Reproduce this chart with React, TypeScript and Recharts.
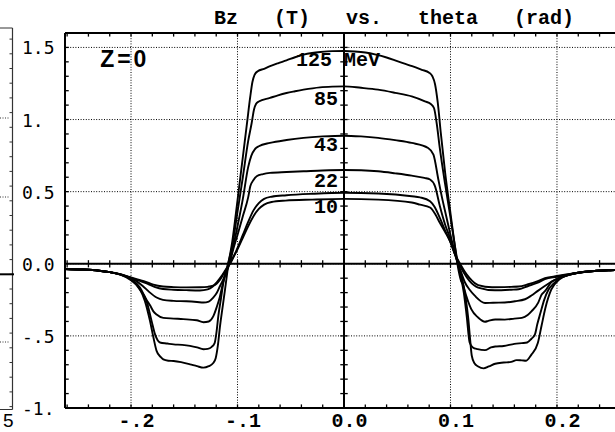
import {
  CartesianGrid,
  Line,
  LineChart,
  ReferenceDot,
  ReferenceLine,
  XAxis,
  YAxis,
} from "recharts"

// Bz (T) vs theta (rad) at Z=0, one curve per beam energy
const X_TICKS = [-0.2, -0.1, 0, 0.1, 0.2]
const X_TICK_LABELS = ["-.2", "-.1", "0.0", "0.1", "0.2"]
const Y_TICKS = [-1, -0.5, 0, 0.5, 1, 1.5]
const Y_TICK_LABELS = ["-1.", "-.5", "0.0", "0.5", "1.", "1.5"]
const X_MINOR = [
  -0.26, -0.24, -0.22, -0.2, -0.18, -0.16, -0.14, -0.12, -0.1, -0.08, -0.06, -0.04, -0.02, 0,
  0.02, 0.04, 0.06, 0.08, 0.1, 0.12, 0.14, 0.16, 0.18, 0.2, 0.22, 0.24, 0.26,
]
const Y_MINOR = [
  -0.9, -0.8, -0.7, -0.6, -0.5, -0.4, -0.3, -0.2, -0.1, 0.1, 0.2, 0.3, 0.4, 0.5, 0.6, 0.7,
  0.8, 0.9, 1.0, 1.1, 1.2, 1.3, 1.4, 1.5,
]
const X_DOMAIN = [-0.262, 0.262]
const Y_DOMAIN = [-1, 1.6]

type Pt = [number, number]

const CURVE_125: Pt[] = [
  [-0.262, -0.036], [-0.245, -0.04], [-0.23, -0.048], [-0.22, -0.058], [-0.21, -0.076],
  [-0.2, -0.115], [-0.1916, -0.177], [-0.187, -0.257], [-0.1822, -0.396], [-0.179, -0.51],
  [-0.176, -0.604], [-0.172, -0.648], [-0.1697, -0.663], [-0.165, -0.672], [-0.16, -0.674],
  [-0.153, -0.682], [-0.1446, -0.697], [-0.138, -0.71], [-0.132, -0.72], [-0.127, -0.71],
  [-0.123, -0.69], [-0.1205, -0.655], [-0.1185, -0.57], [-0.1164, -0.43], [-0.114, -0.3],
  [-0.1117, -0.177], [-0.1085, 0], [-0.105, 0.15], [-0.1, 0.44], [-0.095, 0.74],
  [-0.091, 0.98], [-0.088, 1.16], [-0.086, 1.26], [-0.084, 1.31], [-0.081, 1.335],
  [-0.075, 1.352], [-0.07, 1.368], [-0.062, 1.39], [-0.054, 1.41], [-0.046, 1.432],
  [-0.038, 1.45], [-0.03, 1.461], [-0.022, 1.468], [-0.011, 1.474], [0, 1.475],
  [0.01, 1.472], [0.02, 1.465], [0.03, 1.45], [0.04, 1.43], [0.05, 1.405], [0.064, 1.37],
  [0.073, 1.345], [0.08, 1.325], [0.083, 1.3], [0.0855, 1.245], [0.088, 1.12], [0.091, 0.9],
  [0.095, 0.63], [0.1, 0.35], [0.104, 0.13], [0.1065, 0], [0.11, -0.12], [0.112, -0.15],
  [0.1145, -0.25], [0.1167, -0.38], [0.1185, -0.53], [0.12, -0.638], [0.1225, -0.69],
  [0.126, -0.712], [0.131, -0.725], [0.136, -0.712], [0.142, -0.693], [0.15, -0.685],
  [0.157, -0.68], [0.162, -0.668], [0.167, -0.67], [0.171, -0.672], [0.176, -0.63],
  [0.182, -0.55], [0.1855, -0.43], [0.189, -0.31], [0.1946, -0.18], [0.2024, -0.107],
  [0.212, -0.074], [0.22, -0.062], [0.235, -0.05], [0.25, -0.045], [0.262, -0.043],
]

const CURVE_85: Pt[] = [
  [-0.262, -0.036], [-0.245, -0.04], [-0.23, -0.048], [-0.22, -0.058], [-0.21, -0.075],
  [-0.2, -0.11], [-0.1916, -0.18], [-0.1855, -0.257], [-0.1807, -0.396], [-0.1775, -0.488],
  [-0.175, -0.53], [-0.1728, -0.546], [-0.166, -0.553], [-0.16, -0.559], [-0.152, -0.562],
  [-0.1446, -0.569], [-0.138, -0.58], [-0.132, -0.593], [-0.128, -0.59], [-0.1245, -0.578],
  [-0.1215, -0.55], [-0.1195, -0.46], [-0.118, -0.361], [-0.1155, -0.24], [-0.1133, -0.13],
  [-0.109, 0], [-0.105, 0.12], [-0.1, 0.36], [-0.095, 0.6], [-0.09, 0.85], [-0.0867, 0.976],
  [-0.0845, 1.07], [-0.0825, 1.11], [-0.08, 1.125], [-0.0695, 1.15], [-0.062, 1.168],
  [-0.054, 1.184], [-0.046, 1.196], [-0.038, 1.207], [-0.0225, 1.223], [-0.011, 1.228],
  [0, 1.23], [0.016, 1.22], [0.032, 1.207], [0.048, 1.185], [0.0636, 1.16], [0.076, 1.126],
  [0.0815, 1.108], [0.0845, 1.08], [0.087, 0.976], [0.09, 0.8], [0.095, 0.55], [0.1, 0.32],
  [0.104, 0.13], [0.107, 0], [0.11, -0.1], [0.1125, -0.2], [0.1152, -0.361], [0.118, -0.546],
  [0.121, -0.58], [0.1255, -0.592], [0.1324, -0.599], [0.138, -0.58], [0.142, -0.574],
  [0.15, -0.57], [0.16, -0.555], [0.167, -0.55], [0.172, -0.546], [0.176, -0.52],
  [0.1793, -0.49], [0.1815, -0.42], [0.1845, -0.34], [0.188, -0.25], [0.192, -0.18],
  [0.1965, -0.14], [0.2, -0.115], [0.21, -0.08], [0.22, -0.062], [0.235, -0.05],
  [0.25, -0.045], [0.262, -0.043],
]

const CURVE_43: Pt[] = [
  [-0.262, -0.036], [-0.245, -0.04], [-0.23, -0.048], [-0.22, -0.058], [-0.21, -0.074],
  [-0.2, -0.105], [-0.1916, -0.165], [-0.1855, -0.25], [-0.182, -0.29], [-0.179, -0.33],
  [-0.176, -0.352], [-0.1697, -0.375], [-0.16, -0.38], [-0.151, -0.384], [-0.1383, -0.392],
  [-0.132, -0.405], [-0.127, -0.4], [-0.1228, -0.365], [-0.1195, -0.3], [-0.1166, -0.23],
  [-0.1135, -0.13], [-0.1103, -0.05], [-0.108, 0], [-0.104, 0.12], [-0.1, 0.26],
  [-0.095, 0.45], [-0.09, 0.67], [-0.087, 0.75], [-0.0836, 0.795], [-0.08, 0.815],
  [-0.0695, 0.838], [-0.054, 0.858], [-0.038, 0.873], [-0.02, 0.883], [0, 0.888],
  [0.016, 0.883], [0.032, 0.873], [0.048, 0.857], [0.0636, 0.838], [0.079, 0.803],
  [0.084, 0.757], [0.0886, 0.584], [0.092, 0.46], [0.096, 0.33], [0.1, 0.2], [0.104, 0.08],
  [0.107, 0], [0.11, -0.07], [0.113, -0.177], [0.1165, -0.26], [0.1195, -0.315],
  [0.126, -0.373], [0.1324, -0.402], [0.1355, -0.396], [0.142, -0.386], [0.151, -0.387],
  [0.16, -0.38], [0.167, -0.375], [0.1725, -0.355], [0.176, -0.33], [0.1824, -0.269],
  [0.1855, -0.215], [0.1887, -0.19], [0.195, -0.125], [0.2, -0.105], [0.21, -0.078],
  [0.22, -0.062], [0.235, -0.05], [0.25, -0.045], [0.262, -0.043],
]

const CURVE_22: Pt[] = [
  [-0.262, -0.036], [-0.245, -0.04], [-0.23, -0.048], [-0.22, -0.058], [-0.21, -0.074],
  [-0.2, -0.1], [-0.195, -0.12], [-0.189, -0.154], [-0.183, -0.195], [-0.176, -0.234],
  [-0.17, -0.25], [-0.16, -0.257], [-0.148, -0.26], [-0.138, -0.265], [-0.132, -0.269],
  [-0.127, -0.262], [-0.1228, -0.234], [-0.1197, -0.205], [-0.1164, -0.154],
  [-0.1135, -0.11], [-0.11, -0.05], [-0.1075, 0], [-0.104, 0.1], [-0.1, 0.2],
  [-0.095, 0.33], [-0.09, 0.46], [-0.088, 0.537], [-0.085, 0.58], [-0.082, 0.607],
  [-0.076, 0.622], [-0.0695, 0.63], [-0.054, 0.636], [-0.038, 0.641], [-0.02, 0.647],
  [0, 0.65], [0.016, 0.648], [0.032, 0.641], [0.048, 0.627], [0.0636, 0.611],
  [0.0755, 0.595], [0.0808, 0.584], [0.0855, 0.537], [0.09, 0.4], [0.095, 0.27],
  [0.1, 0.17], [0.104, 0.07], [0.107, 0], [0.11, -0.06], [0.1136, -0.13], [0.118, -0.18],
  [0.123, -0.223], [0.1324, -0.272], [0.14, -0.27], [0.151, -0.269], [0.1606, -0.26],
  [0.17, -0.246], [0.176, -0.22], [0.182, -0.188], [0.1855, -0.17], [0.1946, -0.125],
  [0.2, -0.105], [0.21, -0.078], [0.22, -0.062], [0.235, -0.05], [0.25, -0.045],
  [0.262, -0.043],
]

const CURVE_10B: Pt[] = [
  [-0.262, -0.036], [-0.245, -0.04], [-0.23, -0.048], [-0.22, -0.058], [-0.21, -0.073],
  [-0.2, -0.098], [-0.193, -0.115], [-0.186, -0.135], [-0.178, -0.16], [-0.17, -0.175],
  [-0.16, -0.18], [-0.148, -0.183], [-0.1353, -0.185], [-0.128, -0.178], [-0.1235, -0.16],
  [-0.1197, -0.13], [-0.115, -0.085], [-0.111, -0.04], [-0.107, 0], [-0.1, 0.11],
  [-0.095, 0.2], [-0.09, 0.29], [-0.085, 0.37], [-0.08, 0.42], [-0.075, 0.45],
  [-0.068, 0.465], [-0.054, 0.475], [-0.03, 0.485], [0, 0.492], [0.032, 0.487],
  [0.0636, 0.468], [0.0714, 0.46], [0.0808, 0.434], [0.085, 0.395], [0.09, 0.318],
  [0.095, 0.23], [0.1, 0.15], [0.104, 0.07], [0.108, 0], [0.112, -0.055], [0.118, -0.12],
  [0.126, -0.165], [0.1418, -0.184], [0.157, -0.18], [0.164, -0.177], [0.173, -0.154],
  [0.182, -0.13], [0.1887, -0.107], [0.2, -0.09], [0.21, -0.075], [0.22, -0.062],
  [0.235, -0.05], [0.25, -0.045], [0.262, -0.043],
]

const CURVE_10A: Pt[] = [
  [-0.262, -0.036], [-0.245, -0.04], [-0.23, -0.048], [-0.22, -0.058], [-0.21, -0.072],
  [-0.2, -0.095], [-0.193, -0.11], [-0.186, -0.125], [-0.179, -0.145], [-0.17, -0.158],
  [-0.16, -0.162], [-0.148, -0.164], [-0.135, -0.163], [-0.128, -0.16], [-0.1228, -0.152],
  [-0.1197, -0.138], [-0.1164, -0.11], [-0.113, -0.07], [-0.11, -0.035], [-0.1075, 0],
  [-0.1, 0.1], [-0.095, 0.18], [-0.09, 0.26], [-0.085, 0.33], [-0.08, 0.38],
  [-0.075, 0.41], [-0.068, 0.428], [-0.055, 0.438], [-0.03, 0.445], [0, 0.45],
  [0.032, 0.445], [0.0636, 0.425], [0.0714, 0.41], [0.0808, 0.39], [0.086, 0.34],
  [0.09, 0.284], [0.095, 0.22], [0.0995, 0.157], [0.104, 0.07], [0.109, 0], [0.113, -0.05],
  [0.118, -0.1], [0.126, -0.148], [0.139, -0.163], [0.157, -0.16], [0.164, -0.158],
  [0.173, -0.142], [0.182, -0.12], [0.1887, -0.1], [0.2, -0.085], [0.21, -0.073],
  [0.22, -0.062], [0.235, -0.05], [0.25, -0.045], [0.262, -0.043],
]

const CURVES = [CURVE_125, CURVE_85, CURVE_43, CURVE_22, CURVE_10B, CURVE_10A]

// text annotations: [text, theta, Bz (baseline), anchor]
const NOTES: [string, number, number, "start" | "end"][] = [
  ["125 MeV", -0.045, 1.371, "start"],
  ["85", -0.0056, 1.101, "end"],
  ["43", -0.0056, 0.784, "end"],
  ["22", -0.0056, 0.535, "end"],
  ["10", -0.0056, 0.352, "end"],
]

const MONO = "'Liberation Mono', 'Courier New', monospace"

function XTick(props: any) {
  const { x, y, payload } = props
  const label = X_TICK_LABELS[X_TICKS.indexOf(payload.value)]
  return (
    <text x={x + 5.5} y={y + 18.5} textAnchor="middle" fontFamily={MONO} fontWeight="bold" fontSize={20} fill="#000">
      {label}
    </text>
  )
}

function YTick(props: any) {
  const { x, y, payload } = props
  const label = Y_TICK_LABELS[Y_TICKS.indexOf(payload.value)]
  return (
    <text x={x - 43} y={y + 7} textAnchor="start" fontFamily="'DejaVu Sans Mono', monospace" fontSize={18} fill="#000">
      {label}
    </text>
  )
}

function NeighbourEdge() {
  const ticks: number[] = []
  for (let i = -16; i <= 9; i++) ticks.push(274.3 + i * 14.7)
  return (
    <svg width={20} height={432} style={{ position: "absolute", left: 0, top: 0 }}>
      <line x1={0} y1={28} x2={12.5} y2={28} stroke="#333" strokeWidth={1} />
      <line x1={0} y1={409.5} x2={12.5} y2={409.5} stroke="#333" strokeWidth={1} />
      <line x1={12.5} y1={28} x2={12.5} y2={409.5} stroke="#333" strokeWidth={1.2} />
      {ticks.filter((y) => y > 30 && y < 408).map((y) => (
        <line key={y} x1={9.5} y1={y} x2={12.5} y2={y} stroke="#333" strokeWidth={1} />
      ))}
      {[118, 197, 342].map((y) => (
        <line key={y} x1={0} y1={y} x2={10} y2={y} stroke="#333" strokeDasharray="1 1.5" />
      ))}
      <line x1={0} y1={274.3} x2={14} y2={274.3} stroke="#000" strokeWidth={2} />
      <text x={3} y={427} fontFamily="'Liberation Sans', Arial, sans-serif" fontSize={19} fill="#000">5</text>
    </svg>
  )
}

export default function App() {
  const seg = { stroke: "#000", strokeWidth: 1.3, ifOverflow: "visible" as const }
  return (
    <div style={{ position: "absolute", left: 0, top: 0, width: 615, height: 432, overflow: "hidden", background: "#fff" }}>
      <NeighbourEdge />
      <svg width={615} height={40} style={{ position: "absolute", left: 0, top: 0 }}>
        <text x={214} y={24} fontFamily={MONO} fontWeight="bold" fontSize={20} fill="#000" style={{ whiteSpace: "pre" }}>
          {"Bz   (T)   vs.   theta   (rad)"}
        </text>
      </svg>
      <div style={{ position: "absolute", left: 0, top: 0 }}>
        <LineChart width={640} height={432} margin={{ top: 33, right: 17, bottom: 0, left: 0 }}>
          <CartesianGrid stroke="#000" strokeWidth={1} strokeDasharray="1 1.6" />
          <XAxis
            type="number"
            dataKey="t"
            domain={X_DOMAIN}
            ticks={X_TICKS}
            interval={0}
            allowDataOverflow
            height={24}
            tickSize={0}
            tickMargin={0}
            tickLine={false}
            axisLine={{ stroke: "#000", strokeWidth: 2 }}
            tick={(p: any) => <XTick {...p} />}
          />
          <YAxis
            type="number"
            domain={Y_DOMAIN}
            ticks={Y_TICKS}
            interval={0}
            allowDataOverflow
            width={65}
            tickSize={0}
            tickMargin={0}
            tickLine={false}
            axisLine={{ stroke: "#000", strokeWidth: 2 }}
            tick={(p: any) => <YTick {...p} />}
          />
          {/* frame top and the two zero axes */}
          <ReferenceLine y={1.6} stroke="#000" strokeWidth={2} ifOverflow="visible" />
          <ReferenceLine y={0} stroke="#000" strokeWidth={2} />
          <ReferenceLine x={0} stroke="#000" strokeWidth={2} />
          {X_MINOR.map((t) => (
            <ReferenceLine key={"top" + t} segment={[{ x: t, y: 1.6 }, { x: t, y: 1.575 }]} {...seg} />
          ))}
          {X_MINOR.map((t) => (
            <ReferenceLine key={"bot" + t} segment={[{ x: t, y: -1 }, { x: t, y: -0.975 }]} {...seg} />
          ))}
          {X_MINOR.map((t) => (
            <ReferenceLine key={"mid" + t} segment={[{ x: t, y: -0.025 }, { x: t, y: 0.025 }]} {...seg} />
          ))}
          {Y_MINOR.map((v) => (
            <ReferenceLine key={"l" + v} segment={[{ x: -0.262, y: v }, { x: -0.2585, y: v }]} {...seg} />
          ))}
          {Y_MINOR.map((v) => (
            <ReferenceLine key={"c" + v} segment={[{ x: -0.0035, y: v }, { x: 0.0035, y: v }]} {...seg} />
          ))}
          {CURVES.map((c, i) => (
            <Line
              key={i}
              data={c.map(([t, b]) => ({ t, b }))}
              dataKey="b"
              type="monotone"
              stroke="#000"
              strokeWidth={1.9}
              dot={false}
              isAnimationActive={false}
            />
          ))}
          <ReferenceDot
            x={-0.229}
            y={1.367}
            r={0}
            ifOverflow="visible"
            shape={(p: any) => (
              <text x={p.cx} y={p.cy} fontFamily="'Liberation Sans', Arial, sans-serif" fontWeight="bold" fontSize={23} letterSpacing={3} fill="#000">
                Z=0
              </text>
            )}
          />
          {NOTES.map(([text, t, b, anchor]) => (
            <ReferenceDot
              key={text}
              x={t}
              y={b}
              r={0}
              ifOverflow="visible"
              shape={(p: any) => (
                <text x={p.cx} y={p.cy} textAnchor={anchor} fontFamily={MONO} fontWeight="bold" fontSize={20} fill="#000" style={{ whiteSpace: "pre" }}>
                  {text}
                </text>
              )}
            />
          ))}
        </LineChart>
      </div>
    </div>
  )
}
